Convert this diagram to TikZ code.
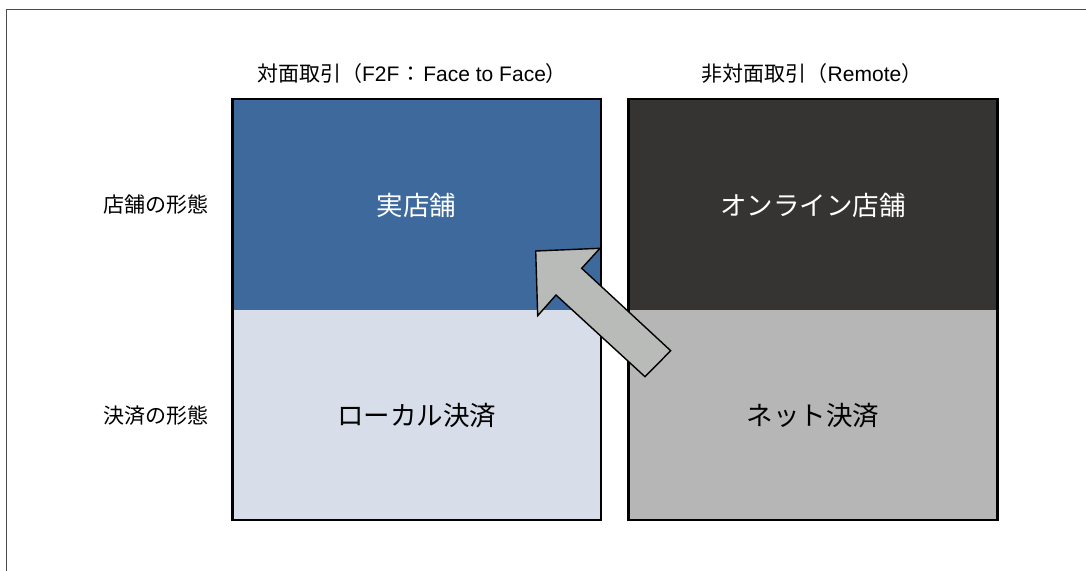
\documentclass[tikz,border=0pt]{standalone}
\usepackage{fontspec}
\setmainfont{Liberation Sans}
\newfontfamily\cjk{Noto Sans CJK JP}
\definecolor{framecol}{HTML}{4A4A4A}
\definecolor{bluecol}{HTML}{3D699D}
\definecolor{lightcol}{HTML}{D8DDEA}
\definecolor{darkcol}{HTML}{353433}
\definecolor{graycol}{HTML}{B5B6B5}
\definecolor{arrowfill}{HTML}{B9BBB9}
\tikzset{
  small/.style={font=\fontsize{21}{25}\selectfont, inner sep=0pt},
  big/.style={font=\fontsize{26.5}{30}\selectfont, inner sep=0pt},
  boxline/.style={draw=black, line width=2.2pt},
  bigarrow/.style={draw=black, line width=1.4pt, fill=arrowfill, line join=miter},
}
\begin{document}
\begin{tikzpicture}[x=1pt,y=-1pt]
\useasboundingbox (0,0) rectangle (1086,570);
\fill[white] (0,0) rectangle (1086,570);
\draw[framecol, line width=1.6pt] (6.5,571) -- (6.5,9.5) -- (1087,9.5);

% left column
\fill[bluecol] (232.5,99) rectangle (601,310);
\fill[lightcol] (232.5,310) rectangle (601,520);
\draw[boxline] (232.5,99) rectangle (601,520);
% right column
\fill[darkcol] (628.5,99) rectangle (997.5,310);
\fill[graycol] (628.5,310) rectangle (997.5,520);
\draw[boxline] (628.5,99) rectangle (997.5,520);

% headers
\node[small] (h1) at (412,74) {{\cjk 対面取引（}F2F{\cjk \kern1.5pt：\kern1.5pt}Face to Face{\cjk ）}};
\node[small] (h2) at (812,74) {{\cjk 非対面取引（}Remote{\cjk ）}};
\node[small] (r1) at (155.5,205) {\cjk 店舗の形態};
\node[small] (r2) at (155.5,416) {\cjk 決済の形態};

% cells
\node[big, text=white] (c1) at (416.5,205) {\cjk 実店舗};
\node[big, text=white] (c2) at (813,205) {\cjk オンライン店舗};
\node[big, text=black] (c3) at (416.5,416) {\cjk ローカル決済};
\node[big, text=black] (c4) at (813,416) {\cjk ネット決済};

% arrow
\draw[bigarrow] (535.7,251) -- (600,248.3) -- (581.7,268.3) -- (670.7,350.7)
  -- (645,376.7) -- (556,295) -- (537.7,315.7) -- cycle;
\end{tikzpicture}
\end{document}
